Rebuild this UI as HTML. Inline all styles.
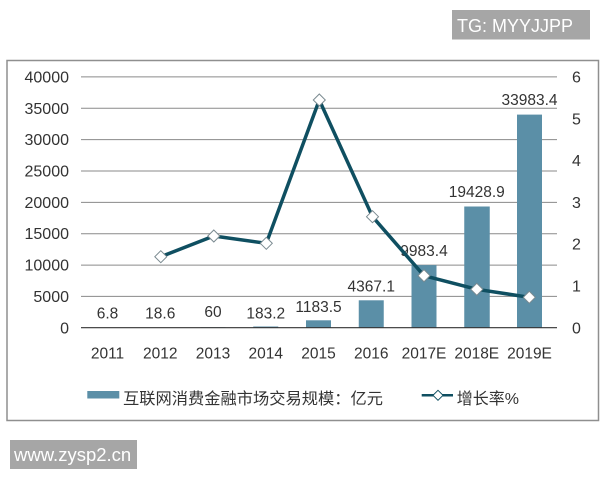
<!DOCTYPE html>
<html><head><meta charset="utf-8"><style>
html,body{margin:0;padding:0;background:#fff;}
svg{display:block;}
text{font-family:"Liberation Sans","Noto Sans CJK SC",sans-serif;}
</style></head><body>
<svg width="600" height="480" viewBox="0 0 600 480" xmlns="http://www.w3.org/2000/svg">
<rect x="0" y="0" width="600" height="480" fill="#fff"/>
<!-- TG box -->
<rect x="452" y="10" width="138" height="29.5" fill="#a6a6a6"/>
<text x="457" y="32" font-size="18" fill="#fff">TG: MYYJJPP</text>
<!-- chart border -->
<rect x="7" y="60.5" width="591.5" height="360" fill="#fff" stroke="#8f8f8f" stroke-width="1.5"/>
<!-- gridlines -->
<g stroke="#8a8a8a" stroke-width="1">
<line x1="81" x2="557" y1="76.9" y2="76.9"/>
<line x1="81" x2="557" y1="108.3" y2="108.3"/>
<line x1="81" x2="557" y1="139.6" y2="139.6"/>
<line x1="81" x2="557" y1="171" y2="171"/>
<line x1="81" x2="557" y1="202.4" y2="202.4"/>
<line x1="81" x2="557" y1="233.7" y2="233.7"/>
<line x1="81" x2="557" y1="265.1" y2="265.1"/>
<line x1="81" x2="557" y1="296.4" y2="296.4"/>
</g>
<!-- left axis labels -->
<g font-size="16" fill="#333" text-anchor="end">
<text x="69" y="82.5">40000</text>
<text x="69" y="113.8">35000</text>
<text x="69" y="145.2">30000</text>
<text x="69" y="176.5">25000</text>
<text x="69" y="207.9">20000</text>
<text x="69" y="239.2">15000</text>
<text x="69" y="270.6">10000</text>
<text x="69" y="302">5000</text>
<text x="69" y="333.3">0</text>
</g>
<!-- right axis labels -->
<g font-size="16" fill="#333">
<text x="572" y="82.5">6</text>
<text x="572" y="124.3">5</text>
<text x="572" y="166.1">4</text>
<text x="572" y="207.9">3</text>
<text x="572" y="249.7">2</text>
<text x="572" y="291.5">1</text>
<text x="572" y="333.3">0</text>
</g>
<!-- bars -->
<g fill="#5b8fa7">
<rect x="95" y="327.65" width="25" height="0.05"/>
<rect x="147.75" y="327.6" width="25" height="0.1"/>
<rect x="200.5" y="327.3" width="25" height="0.4"/>
<rect x="253.25" y="326.5" width="25" height="1.2"/>
<rect x="306" y="320.3" width="25" height="7.4"/>
<rect x="358.75" y="300.3" width="25" height="27.4"/>
<rect x="411.5" y="265.1" width="25" height="62.6"/>
<rect x="464.25" y="206.5" width="25.5" height="121.2"/>
<rect x="517" y="114.6" width="25" height="213.1"/>
</g>
<!-- zero line -->
<line x1="81" x2="557" y1="327.7" y2="327.7" stroke="#333" stroke-width="1.2"/>
<!-- data labels -->
<g font-size="15.5" fill="#333" text-anchor="middle">
<text x="107.5" y="318.5">6.8</text>
<text x="160.25" y="318.5">18.6</text>
<text x="213" y="317.2">60</text>
<text x="265.75" y="318.5">183.2</text>
<text x="318.5" y="312.2">1183.5</text>
<text x="371.25" y="291.5">4367.1</text>
<text x="424" y="256.2">9983.4</text>
<text x="476.75" y="197.2">19428.9</text>
<text x="529.5" y="104.8">33983.4</text>
</g>
<!-- x labels -->
<g font-size="15.5" fill="#333" text-anchor="middle">
<text x="107.5" y="358.5">2011</text>
<text x="160.25" y="358.5">2012</text>
<text x="213" y="358.5">2013</text>
<text x="265.75" y="358.5">2014</text>
<text x="318.5" y="358.5">2015</text>
<text x="371.25" y="358.5">2016</text>
<text x="424" y="358.5">2017E</text>
<text x="476.75" y="358.5">2018E</text>
<text x="529.5" y="358.5">2019E</text>
</g>
<!-- growth line -->
<polyline fill="none" stroke="#0f4f61" stroke-width="3.5" stroke-linejoin="round" points="160.8,256.7 213.8,236 266.3,243.3 319.3,100 372.5,216.7 424,275.7 476.8,289.3 529.3,297.3"/>
<g fill="#fff" stroke="#7a8a90" stroke-width="1">
<polygon points="160.8,250.7 166.8,256.7 160.8,262.7 154.8,256.7"/>
<polygon points="213.8,230 219.8,236 213.8,242 207.8,236"/>
<polygon points="266.3,237.3 272.3,243.3 266.3,249.3 260.3,243.3"/>
<polygon points="319.3,94 325.3,100 319.3,106 313.3,100"/>
<polygon points="372.5,210.7 378.5,216.7 372.5,222.7 366.5,216.7"/>
<polygon points="424,269.7 430,275.7 424,281.7 418,275.7"/>
<polygon points="476.8,283.3 482.8,289.3 476.8,295.3 470.8,289.3"/>
<polygon points="529.3,291.3 535.3,297.3 529.3,303.3 523.3,297.3"/>
</g>
<!-- legend -->
<rect x="87.3" y="391" width="32" height="7.5" fill="#5b8fa7"/>
<text x="123" y="404" font-size="16" fill="#333" textLength="260" lengthAdjust="spacingAndGlyphs">互联网消费金融市场交易规模：亿元</text>
<line x1="421.7" x2="453" y1="395.3" y2="395.3" stroke="#0f4f61" stroke-width="2.5"/>
<polygon points="438,390.3 443,395.3 438,400.3 433,395.3" fill="#fff" stroke="#0f4f61" stroke-width="1"/>
<text x="456.7" y="404" font-size="16" fill="#333">增长率%</text>
<!-- www box -->
<rect x="10" y="440" width="127" height="29" fill="#a6a6a6"/>
<text x="14" y="461" font-size="18.5" fill="#fff">www.zysp2.cn</text>
</svg>
</body></html>
